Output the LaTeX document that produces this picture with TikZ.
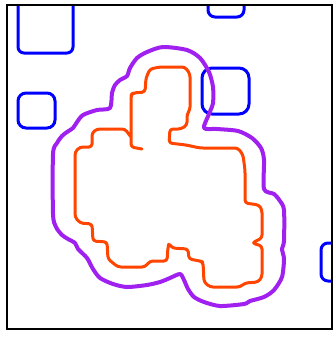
\documentclass[tikz,border=0pt]{standalone}
\usetikzlibrary{calc}

\definecolor{regionblue}{RGB}{0,0,255}
\definecolor{innerorange}{RGB}{255,69,0}
\definecolor{outerpurple}{RGB}{160,32,240}

\begin{document}
\begin{tikzpicture}[
  x=1pt, y=-1pt,
  frame/.style={draw=black, line width=1.4pt},
  obstacle/.style={draw=regionblue, line width=3pt, rounded corners=7pt},
  inner/.style={draw=innerorange, line width=3pt, rounded corners=3pt,
                line join=round, line cap=round},
  outer/.style={draw=outerpurple, line width=4pt, line join=round},
]
\useasboundingbox (0,0) rectangle (334,338);

% Obstacles (clipped by the frame)
\begin{scope}
  \clip (7,5) rectangle (332,329);
  \draw[obstacle, rounded corners=6pt] (18,-10) rectangle (73,53);
  \draw[obstacle, rounded corners=8pt] (18,93) rectangle (55,128);
  \draw[obstacle] (208,-12) rectangle (244,17);
  \draw[obstacle, rounded corners=10pt] (202,68) rectangle (249,114);
  \draw[obstacle] (321,243) rectangle (350,281);
\end{scope}

% Outer boundary
\draw[outer] plot[smooth cycle, tension=0.45] coordinates {
  (163,47) (187,50) (200,58) (209,72) (213,87) (213,103) (209,114)
  (204,128) (217,129) (238,131) (252,138) (261,148) (264,160)
  (264,189) (274,194) (280,201) (284,210) (284,241) (282,249)
  (284,259) (282,277) (274,290) (264,297) (250,301) (244,304)
  (220,306) (204,302) (194,297) (188,289) (184,280) (180,274)
  (170,278) (160,282) (147,285) (127,287) (113,284) (100,278)
  (93,269) (87,258) (78,249) (75,243) (68,239) (62,235) (56,227)
  (53,214) (53,154) (57,143) (62,136) (67,132) (73,128) (77,122)
  (83,115) (97,110) (110,108) (112,93) (115,85) (120,80) (127,76)
  (130,68) (137,58) (147,52)};

% Inner boundary
\draw[inner] (142,149) -- (131,147) -- (131,95) -- (133,93) -- (145,92)
  -- (146,78) -- (150,69) -- (160,67) -- (185,67) -- (190,74)
  -- (190,110) -- (187,114) -- (187,125) -- (181,129) -- (170,129)
  -- (169,143) -- (186,145) -- (200,148) -- (238,148) -- (243,155)
  -- (245,170) -- (245,203) -- (259,205) -- (262,210) -- (262,238)
  -- (252,243) -- (262,246) -- (262,277) -- (258,282) -- (245,283)
  -- (240,287) -- (210,287) -- (204,282) -- (203,262) -- (200,261)
  -- (189,259) -- (188,249) -- (172,248) -- (169,243) -- (168,247)
  -- (167,261) -- (150,261) -- (145,267) -- (118,267) -- (108,259)
  -- (107,242) -- (93,241) -- (92,224) -- (80,223) -- (75,217)
  -- (75,152) -- (80,147) -- (92,147) -- (92,133) -- (97,129)
  -- (125,129) -- (131,137);

% Frame
\draw[frame] (7,5) rectangle (332,329);
\end{tikzpicture}
\end{document}
